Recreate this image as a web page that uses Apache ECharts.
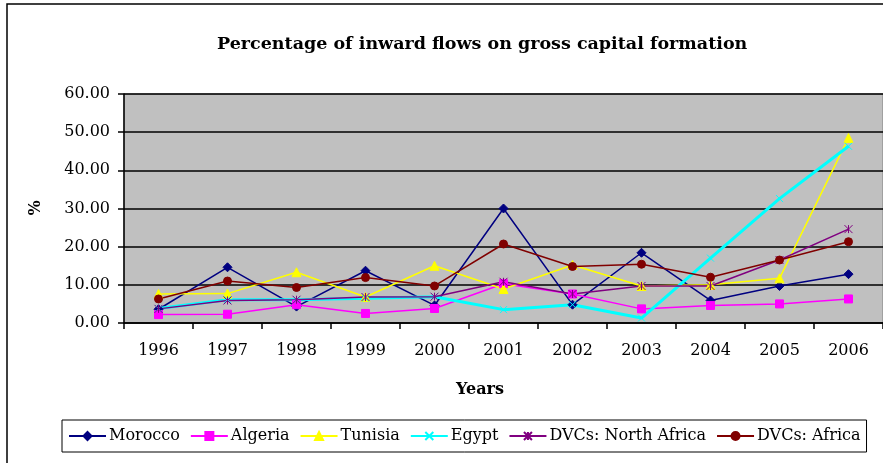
<!DOCTYPE html>
<html>
<head>
<meta charset="utf-8">
<script src="https://cdn.jsdelivr.net/npm/echarts@6/dist/echarts.min.js"></script>
<style>
  html, body { margin: 0; padding: 0; background: #fff; }
  #chart { width: 883px; height: 463px; }
</style>
</head>
<body>
<div id="chart"></div>
<script>
var years = ["1996", "1997", "1998", "1999", "2000", "2001", "2002", "2003", "2004", "2005", "2006"];

var morocco = [3.6, 14.6, 4.3, 13.7, 4.6, 30.0, 4.8, 18.4, 5.9, 9.7, 12.8];
var algeria = [2.2, 2.3, 4.8, 2.5, 3.8, 10.3, 7.6, 3.7, 4.6, 5.0, 6.3];
var tunisia = [7.6, 7.7, 13.3, 6.8, 15.0, 8.9, 15.2, 9.7, 10.0, 11.7, 48.5];
var egypt = [3.8, 6.1, 6.1, 6.5, 6.9, 3.5, 4.8, 1.3, 17.0, 32.6, 46.3];
var dvcNorthAfrica = [3.7, 5.9, 6.1, 6.8, 6.9, 10.8, 7.6, 9.7, 9.7, 16.5, 24.6];
var dvcAfrica = [6.3, 11.0, 9.3, 11.9, 9.7, 20.7, 14.8, 15.4, 12.0, 16.5, 21.3];

var serif = "DejaVu Serif";

function line(name, data, color, symbol, size, width) {
  return {
    name: name,
    type: "line",
    data: data,
    symbol: symbol,
    symbolSize: size,
    showAllSymbol: true,
    lineStyle: { color: color, width: width },
    itemStyle: { color: color, borderColor: color, borderWidth: 1 },
    emphasis: { disabled: true },
    animation: false
  };
}

var chart = echarts.init(document.getElementById("chart"));

chart.setOption({
  backgroundColor: "#ffffff",
  animation: false,
  title: {
    text: "Percentage of inward flows on gross capital formation",
    left: 212,
    top: 30,
    textStyle: { fontFamily: serif, fontWeight: "bold", fontSize: 17.5, color: "#000" }
  },
  graphic: [
    {
      type: "rect",
      shape: { x: 7, y: 4, width: 900, height: 500 },
      style: { fill: null, stroke: "#000", lineWidth: 1.5 },
      silent: true
    },
    {
      type: "text",
      x: 36,
      y: 208,
      rotation: Math.PI / 2,
      style: {
        text: "%",
        fontFamily: serif,
        fontWeight: "bold",
        fontSize: 16,
        fill: "#000",
        align: "center",
        verticalAlign: "middle"
      }
    },
    {
      type: "text",
      x: 480,
      y: 390,
      style: {
        text: "Years",
        fontFamily: serif,
        fontWeight: "bold",
        fontSize: 16,
        fill: "#000",
        align: "center",
        verticalAlign: "middle"
      }
    }
  ],
  legend: {
    left: 62,
    top: 420,
    padding: [8, 6, 8, 6],
    itemWidth: 37,
    itemHeight: 10,
    itemGap: 10,
    borderColor: "#000",
    borderWidth: 1,
    backgroundColor: "#fff",
    textStyle: { fontFamily: serif, fontSize: 16, color: "#000", padding: [0, 0, 0, -2] },
    data: ["Morocco", "Algeria", "Tunisia", "Egypt", "DVCs: North Africa", "DVCs: Africa"]
  },
  grid: {
    left: 124,
    top: 94,
    width: 762,
    height: 229,
    show: true,
    backgroundColor: "#C0C0C0",
    borderColor: "#808080",
    borderWidth: 1
  },
  xAxis: {
    type: "category",
    data: years,
    boundaryGap: true,
    axisLine: { lineStyle: { color: "#000", width: 1.5 } },
    axisTick: { show: true, length: 6, alignWithLabel: false, lineStyle: { color: "#000", width: 1.5 } },
    axisLabel: { fontFamily: serif, fontSize: 16, color: "#000", margin: 20 },
    splitLine: { show: false }
  },
  yAxis: {
    type: "value",
    min: 0,
    max: 60,
    interval: 10,
    axisLine: { show: true, lineStyle: { color: "#000", width: 1.5 } },
    axisTick: { show: true, length: 6, lineStyle: { color: "#000", width: 1.5 } },
    axisLabel: {
      fontFamily: serif,
      fontSize: 16,
      color: "#000",
      margin: 14,
      formatter: function (v) { return v.toFixed(2); }
    },
    splitLine: { show: true, lineStyle: { color: "#000", width: 1.5 } }
  },
  series: [
    line("Morocco", morocco, "#000080", "diamond", 9, 1.5),
    line("Algeria", algeria, "#FF00FF", "rect", 8, 1.5),
    line("Tunisia", tunisia, "#FFFF00", "triangle", 9, 1.5),
    line("Egypt", egypt, "#00FFFF", "path://M0,0L10,10M10,0L0,10", 7, 3),
    line("DVCs: North Africa", dvcNorthAfrica, "#800080",
      "path://M0,0L10,10M10,0L0,10M5,0L5,10", 8, 1.5),
    line("DVCs: Africa", dvcAfrica, "#800000", "circle", 8, 1.5)
  ]
});
</script>
</body>
</html>
